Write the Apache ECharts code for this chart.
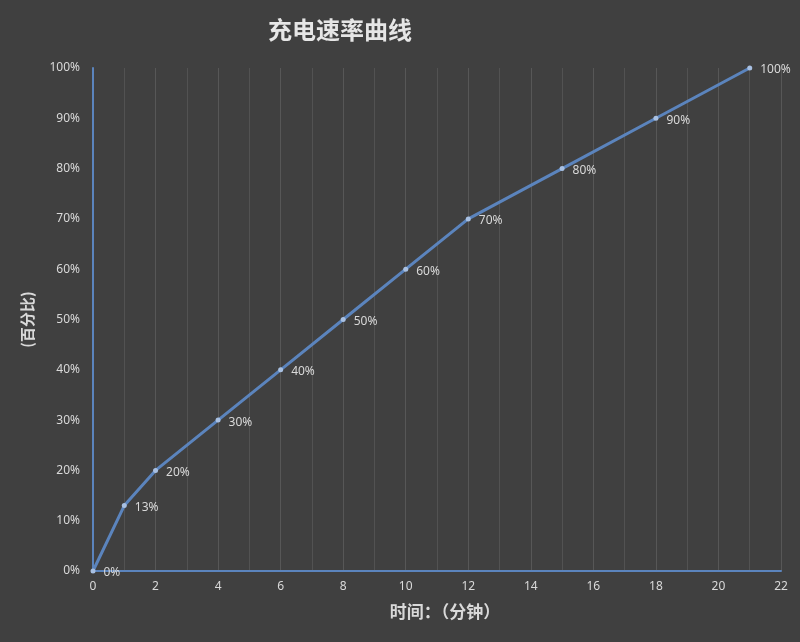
<!DOCTYPE html>
<html><head><meta charset="utf-8">
<script src="https://cdn.jsdelivr.net/npm/echarts@6/dist/echarts.min.js"></script>
<style>html,body{margin:0;padding:0;background:#404040;}#c{width:800px;height:642px;}</style>
</head><body><div id="c"></div>
<script>
const minutes = [0, 1, 2, 4, 6, 8, 10, 12, 15, 18, 21];
const percents = [0, 13, 20, 30, 40, 50, 60, 70, 80, 90, 100];
const titleText = '充电速率曲线';
const xName = '时间：（分钟）';
const yName = '(百分比)';

const chart = echarts.init(document.getElementById('c'));
const font = '"Noto Sans", "Noto Sans CJK SC", sans-serif';
chart.setOption({
  backgroundColor: '#404040',
  animation: false,
  title: {
    text: titleText, left: 335, top: 13, textAlign: 'center',
    textStyle: {color: '#e6e6e6', fontSize: 24, fontWeight: 'bold', fontFamily: '"Noto Sans CJK SC", sans-serif'}
  },
  grid: {left: 93, right: 19, top: 68, bottom: 71},
  xAxis: {
    type: 'value', min: 0, max: 22, interval: 2,
    name: xName, nameLocation: 'middle', nameGap: 32,
    nameTextStyle: {color: '#d9d9d9', fontSize: 17, fontWeight: 'bold', fontFamily: '"Noto Sans CJK SC", sans-serif',
      padding: [0, 0, 0, 16]},
    axisLine: {show: true, lineStyle: {color: '#5b84bd', width: 2}},
    axisTick: {show: false},
    axisLabel: {color: '#d9d9d9', fontSize: 12, margin: 10, fontFamily: font},
    splitLine: {show: true, lineStyle: {color: '#575757', width: 1}},
    minorTick: {show: false, splitNumber: 2},
    minorSplitLine: {show: true, lineStyle: {color: '#525252', width: 1}}
  },
  yAxis: {
    type: 'value', min: 0, max: 100, interval: 10,
    name: yName, nameLocation: 'middle', nameGap: 58, nameRotate: 90,
    nameTextStyle: {color: '#d9d9d9', fontSize: 15, fontWeight: 'bold', fontFamily: '"Noto Sans CJK SC", sans-serif'},
    axisLine: {show: true, lineStyle: {color: '#5b84bd', width: 2}},
    axisTick: {show: false},
    axisLabel: {color: '#d9d9d9', fontSize: 12, margin: 13, formatter: '{value}%', fontFamily: font},
    splitLine: {show: false}
  },
  series: [{
    type: 'line',
    data: minutes.map((m, i) => [m, percents[i]]),
    symbol: 'circle', symbolSize: 5,
    itemStyle: {color: '#a8c0e2'},
    lineStyle: {color: '#5b84bd', width: 3},
    label: {show: true, position: 'right', distance: 8, color: '#d9d9d9', fontSize: 12, fontFamily: font,
      offset: [0, 2],
      formatter: p => p.value[1] + '%'}
  }]
});
</script></body></html>
